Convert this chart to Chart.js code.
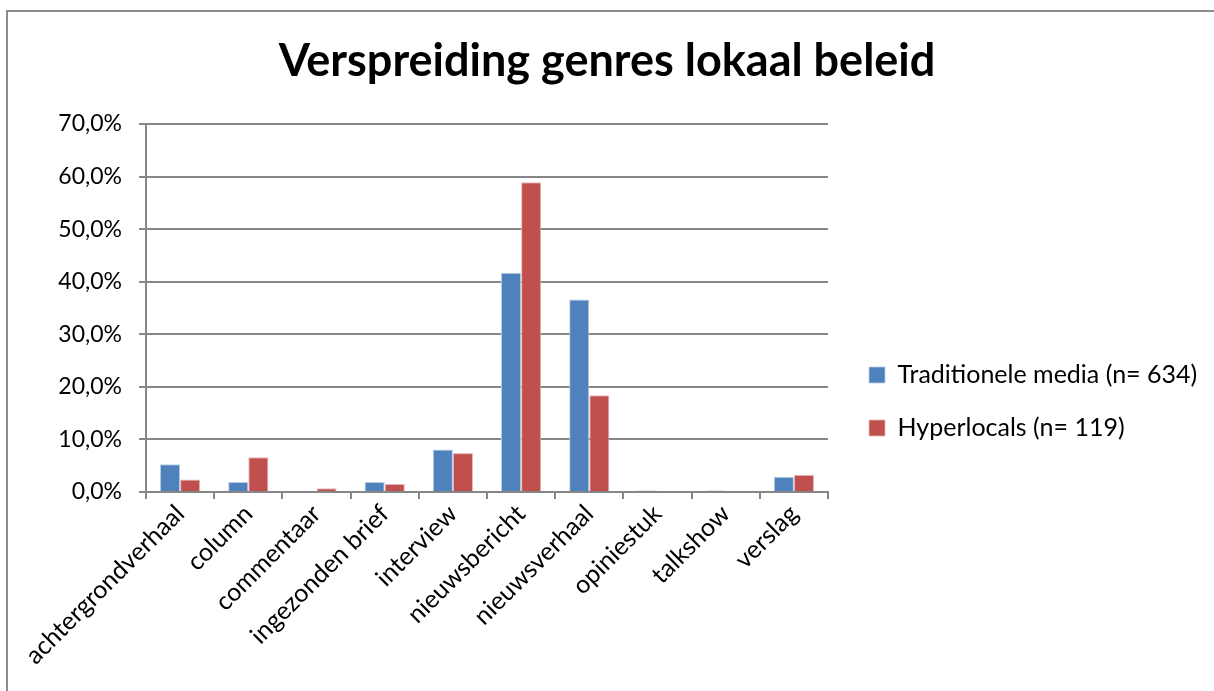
<!DOCTYPE html>
<html>
<head>
<meta charset="utf-8">
<script src="https://cdn.jsdelivr.net/npm/chart.js@4/dist/chart.umd.min.js"></script>
<style>
  html, body { margin: 0; padding: 0; background: #fff; }
  #wrap { width: 1214px; height: 691px; }
</style>
</head>
<body>
<div id="wrap"><canvas id="genreChart" width="1214" height="691"></canvas></div>
<script>
// Categories and values (percentages)
const genres = ['achtergrondverhaal', 'column', 'commentaar', 'ingezonden brief', 'interview',
                'nieuwsbericht', 'nieuwsverhaal', 'opiniestuk', 'talkshow', 'verslag'];
const traditioneel = [5.3, 1.9, 0, 1.9, 8.1, 41.7, 36.6, 0.3, 0.3, 2.9];
const hyperlocals = [2.4, 6.6, 0.7, 1.5, 7.4, 58.9, 18.4, 0, 0, 3.3];
const seriesNames = ['Traditionele media (n= 634)', 'Hyperlocals (n= 119)'];
const yTicks = [0, 10, 20, 30, 40, 50, 60, 70];

const FONT = "Lato, 'Liberation Sans', sans-serif";
const GRID = '#868686';

// plot area target (px)
const AREA = { left: 146, right: 828, top: 124, bottom: 492 };

// frame around the whole chart object + legend placement
const framePlugin = {
  id: 'frame',
  beforeUpdate(chart) {
    const lg = chart.legend;
    if (lg && !lg._fixedWidth) {
      const fit = lg.fit;
      lg.fit = function () {
        fit.call(this);
        this.width = chart.width - AREA.right;
      };
      lg._fixedWidth = true;
    }
  },
  afterLayout(chart) {
    const lg = chart.legend;
    if (lg) {
      lg.left += 13; lg.right += 13;
      lg.top += 56; lg.bottom += 56;
    }
  },
  beforeDraw(chart) {
    const c = chart.ctx;
    c.save();
    c.strokeStyle = '#8c8c8c';
    c.lineWidth = 2;
    c.strokeRect(7, 11, 1214, 700);
    c.restore();
  }
};

const ctx = document.getElementById('genreChart').getContext('2d');

new Chart(ctx, {
  type: 'bar',
  data: {
    labels: genres,
    datasets: [{
      label: seriesNames[0],
      data: traditioneel,
      backgroundColor: '#4f81bd',
      borderColor: '#b9cde5',
      borderWidth: { top: 1, left: 1, right: 1, bottom: 0 }
    }, {
      label: seriesNames[1],
      data: hyperlocals,
      backgroundColor: '#c0504d',
      borderColor: '#e6b9b8',
      borderWidth: { top: 1, left: 1, right: 1, bottom: 0 }
    }]
  },
  options: {
    responsive: false,
    animation: false,
    layout: { padding: 0 },
    datasets: {
      bar: { categoryPercentage: 0.59, barPercentage: 1.0 }
    },
    plugins: {
      title: {
        display: true,
        text: 'Verspreiding genres lokaal beleid',
        color: '#000',
        font: { family: FONT, size: 45, weight: 'bold', lineHeight: 1.2 },
        padding: { top: 34, bottom: 36 }
      },
      legend: {
        position: 'right',
        labels: {
          color: '#000',
          font: { family: FONT, size: 25 },
          boxWidth: 16,
          boxHeight: 16,
          padding: 28
        }
      },
      tooltip: { enabled: false }
    },
    scales: {
      x: {
        afterFit(axis) { axis.height = 691 - AREA.bottom; },
        grid: {
          display: true,
          drawOnChartArea: false,
          offset: true,
          color: GRID,
          lineWidth: 2,
          tickLength: 7
        },
        border: { color: GRID, width: 2 },
        ticks: {
          color: '#000',
          font: { family: FONT, size: 25 },
          maxRotation: 45,
          minRotation: 45,
          autoSkip: false,
          padding: 0
        }
      },
      y: {
        min: 0,
        max: 70,
        afterFit(axis) { axis.width = AREA.left; },
        afterBuildTicks(axis) {
          axis.ticks = yTicks.map(v => ({ value: v }));
        },
        grid: {
          color: GRID,
          lineWidth: 2,
          tickLength: 7
        },
        border: { color: GRID, width: 2 },
        ticks: {
          color: '#000',
          font: { family: FONT, size: 23 },
          padding: 17,
          callback: v => v.toFixed(1).replace('.', ',') + '%'
        }
      }
    }
  },
  plugins: [framePlugin]
});
</script>
</body>
</html>
